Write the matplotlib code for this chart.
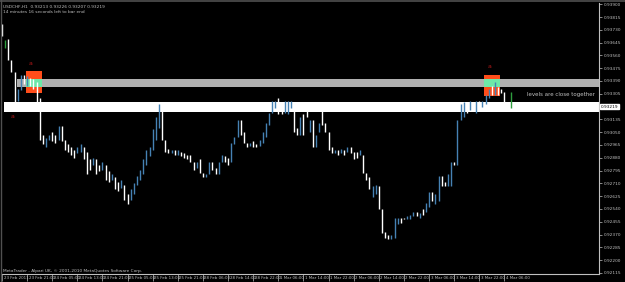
import numpy as np
import matplotlib
matplotlib.use("Agg")
import matplotlib.pyplot as plt
from matplotlib.transforms import ScaledTranslation

# H1 bars, USDCHF
highs = [0.9377, 0.9366, 0.9367, 0.9353, 0.9345, 0.9334, 0.9343, 0.9343, 0.9342, 0.9341,
         0.9340, 0.9338, 0.9328, 0.9303, 0.9301, 0.9303, 0.9305, 0.9303, 0.9309, 0.9309,
         0.9300, 0.9297, 0.9295, 0.9293, 0.9295, 0.9297, 0.9295, 0.9292, 0.9287, 0.9288,
         0.9287, 0.9283, 0.9285, 0.9283, 0.9279, 0.9277, 0.9275, 0.9272, 0.9273, 0.9270,
         0.9264, 0.9267, 0.9271, 0.9276, 0.9280, 0.9287, 0.9293, 0.9295, 0.9307, 0.9315,
         0.9324, 0.9324, 0.9300, 0.9294, 0.9293, 0.9293, 0.9293, 0.9292, 0.9291, 0.9290,
         0.9290, 0.9285, 0.9285, 0.9287, 0.9278, 0.9277, 0.9285, 0.9285, 0.9281, 0.9285,
         0.9290, 0.9289, 0.9288, 0.9298, 0.9302, 0.9313, 0.9313, 0.9305, 0.9298, 0.9298,
         0.9299, 0.9297, 0.9300, 0.9305, 0.9311, 0.9318, 0.9326, 0.9326, 0.9328, 0.9324,
         0.9326, 0.9326, 0.9326, 0.9323, 0.9308, 0.9315, 0.9317, 0.9324, 0.9313, 0.9313,
         0.9303, 0.9311, 0.9320, 0.9311, 0.9305, 0.9295, 0.9293, 0.9293, 0.9294, 0.9293,
         0.9295, 0.9295, 0.9292, 0.9292, 0.9293, 0.9290, 0.9278, 0.9275, 0.9269, 0.9270,
         0.9269, 0.9254, 0.9239, 0.9237, 0.9237, 0.9248, 0.9248, 0.9248, 0.9248, 0.9249,
         0.9250, 0.9252, 0.9252, 0.9251, 0.9254, 0.9258, 0.9265, 0.9265, 0.9264, 0.9276,
         0.9276, 0.9272, 0.9277, 0.9285, 0.9285, 0.9313, 0.9324, 0.9325, 0.9325, 0.9326,
         0.9325, 0.9326, 0.9326, 0.9326, 0.9330, 0.9334, 0.9336, 0.9338, 0.9335, 0.9334,
         0.9332, 0.9325, 0.9332]
lows = [0.9369, 0.9361, 0.9353, 0.9345, 0.9320, 0.9326, 0.9333, 0.9337, 0.9336, 0.9336,
        0.9334, 0.9324, 0.9300, 0.9297, 0.9295, 0.9300, 0.9299, 0.9298, 0.9300, 0.9299,
        0.9293, 0.9292, 0.9290, 0.9288, 0.9291, 0.9292, 0.9287, 0.9277, 0.9280, 0.9283,
        0.9277, 0.9279, 0.9280, 0.9273, 0.9272, 0.9273, 0.9267, 0.9266, 0.9268, 0.9260,
        0.9257, 0.9260, 0.9264, 0.9270, 0.9273, 0.9277, 0.9283, 0.9289, 0.9293, 0.9300,
        0.9308, 0.9300, 0.9292, 0.9291, 0.9291, 0.9290, 0.9290, 0.9289, 0.9288, 0.9287,
        0.9285, 0.9280, 0.9281, 0.9278, 0.9275, 0.9275, 0.9277, 0.9280, 0.9277, 0.9277,
        0.9285, 0.9285, 0.9283, 0.9285, 0.9297, 0.9302, 0.9303, 0.9298, 0.9295, 0.9296,
        0.9295, 0.9295, 0.9296, 0.9298, 0.9302, 0.9310, 0.9318, 0.9321, 0.9317, 0.9317,
        0.9318, 0.9317, 0.9321, 0.9305, 0.9303, 0.9303, 0.9303, 0.9315, 0.9305, 0.9295,
        0.9295, 0.9305, 0.9310, 0.9305, 0.9293, 0.9291, 0.9291, 0.9290, 0.9291, 0.9290,
        0.9292, 0.9291, 0.9287, 0.9288, 0.9290, 0.9278, 0.9273, 0.9267, 0.9262, 0.9264,
        0.9254, 0.9238, 0.9235, 0.9234, 0.9234, 0.9235, 0.9244, 0.9245, 0.9247, 0.9247,
        0.9247, 0.9249, 0.9249, 0.9248, 0.9250, 0.9252, 0.9255, 0.9259, 0.9257, 0.9259,
        0.9269, 0.9269, 0.9269, 0.9269, 0.9283, 0.9283, 0.9313, 0.9315, 0.9318, 0.9320,
        0.9320, 0.9318, 0.9321, 0.9322, 0.9324, 0.9328, 0.9330, 0.9330, 0.9330, 0.9331,
        0.9323, 0.9323, 0.9321]
bull = [0, 1, 0, 0, 0, 1, 1, 0, 1, 0, 0, 0, 0, 0, 1, 1, 0, 0, 1, 0,
        0, 0, 0, 0, 1, 1, 0, 0, 0, 1, 0, 0, 1, 0, 0, 1, 0, 0, 1, 0,
        0, 1, 1, 1, 1, 1, 1, 1, 1, 1, 1, 0, 0, 0, 1, 0, 1, 0, 0, 0,
        0, 0, 1, 0, 0, 1, 1, 0, 0, 1, 1, 0, 0, 1, 1, 1, 0, 0, 0, 1,
        0, 0, 1, 1, 1, 1, 1, 1, 0, 0, 1, 1, 1, 0, 0, 1, 0, 0, 1, 0,
        1, 1, 0, 0, 0, 0, 1, 0, 1, 0, 1, 0, 0, 0, 1, 0, 0, 0, 1, 1,
        0, 0, 0, 0, 1, 1, 1, 0, 0, 1, 1, 1, 0, 1, 0, 1, 1, 0, 1, 1,
        0, 0, 1, 1, 0, 1, 1, 1, 0, 1, 0, 1, 0, 1, 1, 1, 0, 1, 0, 0,
        0, 0, 1]

date_labels = ["23 Feb 2011", "23 Feb 21:00", "24 Feb 05:00", "24 Feb 13:00", "24 Feb 21:00",
               "25 Feb 05:00", "25 Feb 13:00", "25 Feb 21:00", "28 Feb 06:00", "28 Feb 14:00",
               "28 Feb 22:00", "1 Mar 06:00", "1 Mar 14:00", "1 Mar 22:00", "2 Mar 06:00",
               "2 Mar 14:00", "2 Mar 22:00", "3 Mar 06:00", "3 Mar 14:00", "3 Mar 22:00",
               "4 Mar 06:00"]

# zones drawn on the chart
grey_zone = (0.93348, 0.93405)
white_zone = (0.93186, 0.93252)
box1 = (7.6, 12.7, 0.93312, 0.93457)
box2 = (153.5, 158.6, 0.93292, 0.93431)
last_price = 0.93219

fg = "#c0c0c0"
up_col = "#4682b4"
dn_col = "#ffffff"
fs = 3.1

fig = plt.figure(figsize=(6.25, 2.82), dpi=100, facecolor="black")
ax = fig.add_axes([1 / 625, 1 - 274 / 282, 598 / 625, 271 / 282])
ax.set_facecolor("black")
ax.set_xlim(-0.32, 190.1)
ax.set_ylim(0.92108, 0.93908)

x = np.arange(len(highs))
cols = [up_col if b else dn_col for b in bull]
cols[-1] = "#2e9e3e"
cols[1] = "#2e9e3e"

# levels
ax.axhspan(grey_zone[0], grey_zone[1], xmin=(4.8 + 0.32) / 190.42, xmax=1, color="#b0b0b0", lw=0, zorder=1)
ax.axhspan(white_zone[0], white_zone[1], xmin=0.005, xmax=1, color="white", lw=0, zorder=1)
for (x0, x1, y0, y1) in [box1, box2]:
    ax.fill_between([x0, x1], y0, y1, color="#ff4d1a", lw=0, zorder=2)
    ax.fill_between([x0, x1], max(y0, grey_zone[0]), min(y1, grey_zone[1]), color="#6ee8a8", lw=0, zorder=2)

ax.vlines(x, lows, highs, colors=cols, lw=1.0, zorder=3)

# markers
for (mx, my) in [(9.2, 0.93504), (3.5, 0.93153), (155.4, 0.93484)]:
    ax.text(mx, my, "a", color="#b01818", fontsize=4.5, ha="center", va="center", zorder=4)

ax.text(167.2, 0.93299, "levels are close together", color=fg, fontsize=4.0,
        ha="left", va="center", zorder=4)

# axes styling
for s in ["top", "left"]:
    ax.spines[s].set_visible(False)
for s in ["right", "bottom"]:
    ax.spines[s].set_color(fg)
    ax.spines[s].set_linewidth(0.8)

# price scale; the tick under the current price box is left unlabeled
yt = np.arange(0.92115, 0.93910, 0.00085)
ylabels = ["" if abs(v - last_price) < 0.0002 else "%.5f" % v for v in yt]
ax.yaxis.tick_right()
ax.set_yticks(yt, ylabels)
ax.tick_params(axis="y", colors=fg, labelsize=fs, length=2, width=0.5, pad=1.5)

ax.set_xticks(np.arange(0, 8 * len(date_labels), 8), date_labels)
ax.tick_params(axis="x", colors=fg, labelsize=2.9, length=5, width=0.5, pad=-3.5)
shift = ScaledTranslation(1.5 / 100, 0, fig.dpi_scale_trans)
for lbl in ax.get_xticklabels():
    lbl.set_ha("left")
    lbl.set_transform(lbl.get_transform() + shift)

# current price label
ax.annotate("%.5f" % last_price, xy=(1, last_price), xycoords=("axes fraction", "data"),
            xytext=(1.5, 0), textcoords="offset points", fontsize=fs, color="black",
            va="center", ha="left",
            bbox=dict(boxstyle="square,pad=0.15", fc="white", ec="white"), zorder=5)

ax.text(0.004, 0.993, "USDCHF,H1  0.93213 0.93226 0.93207 0.93219", transform=ax.transAxes,
        color=fg, fontsize=fs, va="top", ha="left")
ax.text(0.004, 0.975, "14 minutes 16 seconds left to bar end", transform=ax.transAxes,
        color=fg, fontsize=fs, va="top", ha="left")
ax.text(0.004, 0.004, "MetaTrader - Alpari UK, \u00a9 2001-2010 MetaQuotes Software Corp.",
        transform=ax.transAxes, color=fg, fontsize=fs, va="bottom", ha="left")

# window frame
fig.add_artist(plt.Line2D([0, 1], [0.997, 0.997], color="#505050", lw=1.2))
fig.add_artist(plt.Line2D([0.0008, 0.0008], [0, 1], color="#505050", lw=1.0))

fig.savefig("out.png", dpi=100, facecolor="black")
